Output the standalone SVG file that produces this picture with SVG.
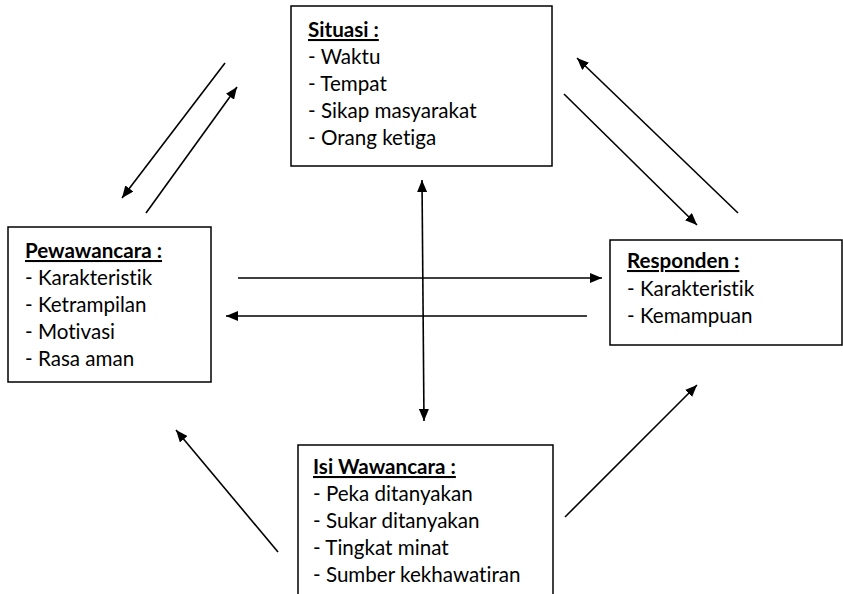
<svg xmlns="http://www.w3.org/2000/svg" width="843" height="594" viewBox="0 0 843 594">
<style>
.box{fill:#fff;stroke:#000;stroke-width:1.5}
text{font-family:Lato,"Liberation Sans",sans-serif;font-size:20.6px;fill:#000;font-variant-ligatures:none}
.t{font-weight:bold;text-decoration:underline}
.c line{stroke:#000;stroke-width:1.6}
.a{marker-end:url(#ah)}
.b{marker-start:url(#ahs);marker-end:url(#ah)}
</style>
<defs>
<marker id="ah" viewBox="0 0 12 10" refX="12" refY="5" markerWidth="12" markerHeight="10" markerUnits="userSpaceOnUse" orient="auto"><path d="M0,0L12,5L0,10z" fill="#000"/></marker>
<marker id="ahs" viewBox="0 0 12 10" refX="0" refY="5" markerWidth="12" markerHeight="10" markerUnits="userSpaceOnUse" orient="auto"><path d="M12,0L0,5L12,10z" fill="#000"/></marker>
</defs>
<rect width="843" height="594" fill="#fff"/>
<g id="situasi">
<rect class="box" x="291" y="6" width="261" height="160"/>
<text x="308" y="37" class="t">Situasi :</text>
<text x="308" y="64">- Waktu</text>
<text x="308" y="91">- Tempat</text>
<text x="308" y="118">- Sikap masyarakat</text>
<text x="308" y="145">- Orang ketiga</text>
</g>
<g id="pewawancara">
<rect class="box" x="8" y="227" width="203" height="155"/>
<text x="25" y="258" class="t">Pewawancara :</text>
<text x="25" y="285">- Karakteristik</text>
<text x="25" y="312">- Ketrampilan</text>
<text x="25" y="339">- Motivasi</text>
<text x="25" y="366">- Rasa aman</text>
</g>
<g id="responden">
<rect class="box" x="610" y="240" width="232" height="105"/>
<text x="627" y="268" class="t">Responden :</text>
<text x="627" y="296">- Karakteristik</text>
<text x="627" y="323">- Kemampuan</text>
</g>
<g id="isi">
<rect class="box" x="298" y="445" width="255" height="160"/>
<text x="313" y="474" class="t">Isi Wawancara :</text>
<text x="313" y="501">- Peka ditanyakan</text>
<text x="313" y="528">- Sukar ditanyakan</text>
<text x="313" y="555">- Tingkat minat</text>
<text x="313" y="582">- Sumber kekhawatiran</text>
</g>
<g id="connectors" class="c">
<line class="a" x1="225" y1="63" x2="122" y2="198"/>
<line class="a" x1="146" y1="213" x2="237" y2="87"/>
<line class="a" x1="738" y1="213" x2="577" y2="58"/>
<line class="a" x1="564" y1="94" x2="697" y2="225"/>
<line class="a" x1="238" y1="278" x2="602" y2="278"/>
<line class="a" x1="587" y1="316" x2="226" y2="316"/>
<line class="b" x1="422" y1="180" x2="424" y2="421"/>
<line class="a" x1="278" y1="552" x2="176" y2="430"/>
<line class="a" x1="565" y1="517" x2="697" y2="385"/>
</g>
</svg>
